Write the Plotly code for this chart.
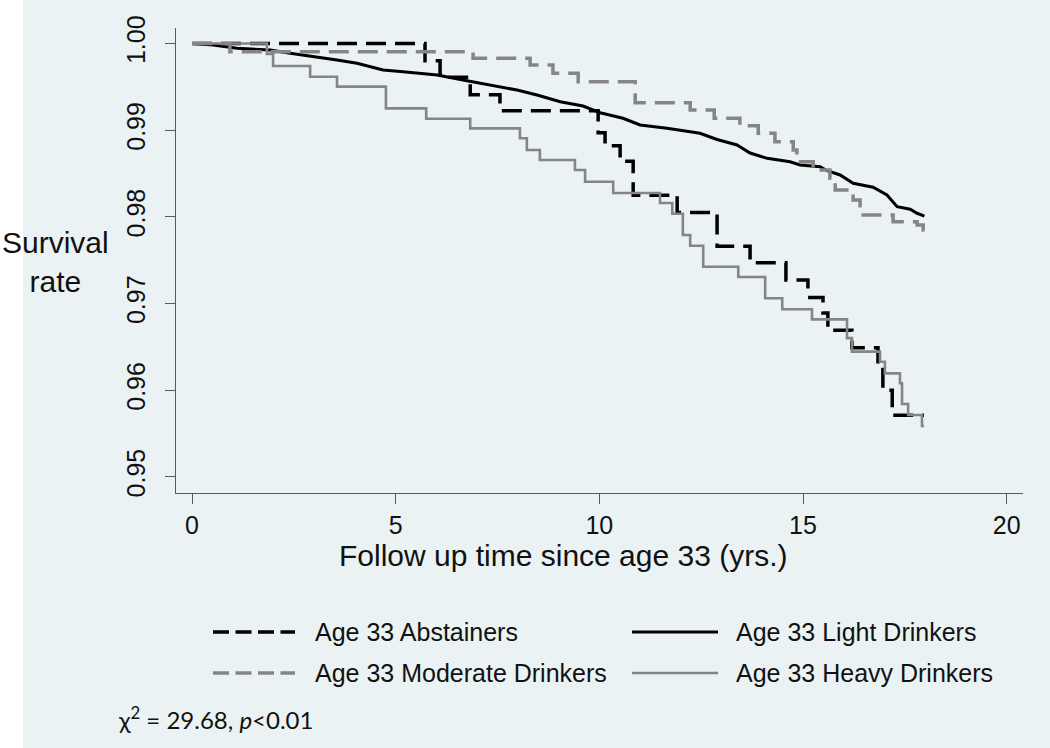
import plotly.graph_objects as go

# ---------------- data ----------------
series_names = ["Age 33 Abstainers", "Age 33 Light Drinkers",
                "Age 33 Moderate Drinkers", "Age 33 Heavy Drinkers"]

t_abstainers = [0, 5.72, 6.09, 6.83, 7.56, 9.97, 10.14, 10.51, 10.83, 11.91, 12.89,
                13.70, 14.58, 15.12, 15.49, 15.61, 16.20, 16.84, 16.96, 17.19, 17.97]
s_abstainers = [1.0, 0.9980, 0.9961, 0.9941, 0.99225, 0.9897, 0.9882, 0.9864, 0.9825,
                0.9805, 0.9766, 0.9747, 0.9727, 0.9707, 0.9689, 0.9669, 0.9649, 0.9629,
                0.9600, 0.9571, 0.9571]

t_light = [0, 0.52, 1.10, 1.92, 2.41, 2.90, 3.56, 4.05, 4.69, 5.18, 6.02, 6.65, 7.56,
           7.98, 8.47, 9.04, 9.60, 10.02, 10.58, 11.00, 11.66, 12.47, 12.89, 13.38,
           13.70, 14.12, 14.68, 14.93, 15.42, 15.59, 15.91, 16.23, 16.72, 17.06, 17.31,
           17.63, 17.80, 17.95, 17.98]
s_light = [1.0, 0.99983, 0.99945, 0.99925, 0.99887, 0.99856, 0.99810, 0.99772, 0.99694,
           0.99675, 0.99636, 0.99579, 0.99501, 0.99463, 0.99406, 0.99328, 0.99279,
           0.99201, 0.99137, 0.99060, 0.99021, 0.98964, 0.98892, 0.98829, 0.98736,
           0.98675, 0.98636, 0.98598, 0.98578, 0.98532, 0.98483, 0.98387, 0.98341,
           0.98252, 0.98117, 0.98087, 0.98041, 0.98009, 0.98009]

t_moderate = [0, 0.93, 6.90, 8.30, 8.86, 9.48, 10.88, 12.23, 12.82, 13.45, 13.90, 14.31,
              14.76, 14.85, 15.25, 15.66, 15.79, 16.23, 16.40, 17.21, 17.80, 17.95, 17.98]
s_moderate = [1.0, 0.99905, 0.99829, 0.99752, 0.99656, 0.99559, 0.99317, 0.99233,
              0.99137, 0.99050, 0.98964, 0.98867, 0.98771, 0.98636, 0.98541, 0.98445,
              0.98310, 0.98194, 0.98021, 0.97944, 0.97906, 0.97848, 0.97848]

t_heavy = [0, 1.84, 1.99, 2.90, 3.56, 4.76, 5.75, 6.83, 8.05, 8.22, 8.54, 9.40, 9.65,
           10.34, 11.49, 11.79, 12.05, 12.23, 12.55, 13.41, 14.07, 14.49, 15.22, 16.08,
           16.20, 16.89, 17.01, 17.38, 17.43, 17.58, 17.92, 17.97]
s_heavy = [1.0, 0.9988, 0.9974, 0.99617, 0.99502, 0.99252, 0.99132, 0.99021, 0.98906,
           0.98771, 0.98656, 0.98540, 0.98405, 0.98275, 0.98160, 0.98035, 0.97790,
           0.97667, 0.97424, 0.97305, 0.97060, 0.96933, 0.96817, 0.96600, 0.96444,
           0.96328, 0.96194, 0.96079, 0.95840, 0.95713, 0.95586, 0.95586]

x_ticks = [0, 5, 10, 15, 20]
y_ticks = [0.95, 0.96, 0.97, 0.98, 0.99, 1.00]
y_tick_labels = ["0.95", "0.96", "0.97", "0.98", "0.99", "1.00"]

# ---------------- layout geometry ----------------
W, H = 1050, 748
L, R, T, B = 176, 1023, 28, 493   # plot area in pixels
BG = "#EAF2F3"


def px(x):
    return (x - L) / (R - L)


def py(y):
    return (B - y) / (B - T)


styles = [
    dict(color="black", width=3.5, dash="20px,9px", shape="hv"),
    dict(color="black", width=3, dash="solid", shape="linear"),
    dict(color="#858585", width=3.5, dash="20px,9px", shape="hv"),
    dict(color="#858585", width=2.6, dash="solid", shape="hv"),
]
data = [(t_abstainers, s_abstainers), (t_light, s_light),
        (t_moderate, s_moderate), (t_heavy, s_heavy)]

fig = go.Figure()
for name, (tx, sy), st in zip(series_names, data, styles):
    fig.add_trace(go.Scatter(
        x=tx, y=sy, mode="lines", name=name, showlegend=False,
        line=dict(color=st["color"], width=st["width"], dash=st["dash"], shape=st["shape"]),
    ))

axis_font = dict(family="Liberation Sans, Arial, sans-serif", size=25, color="#111")

fig.update_layout(
    width=W, height=H,
    margin=dict(l=L, r=W - R, t=T, b=H - B, pad=0),
    paper_bgcolor=BG, plot_bgcolor=BG,
    showlegend=False,
    xaxis=dict(range=[-0.393, 20.40], tickvals=x_ticks, ticktext=[str(v) for v in x_ticks],
               showgrid=False, zeroline=False, showline=True, linecolor="#5a5a5a",
               linewidth=1.3, ticks="outside", ticklen=10, tickcolor="#5a5a5a",
               tickwidth=1.3, tickfont=axis_font),
    yaxis=dict(range=[0.94813, 1.00179], tickvals=y_ticks, ticktext=y_tick_labels,
               showgrid=False, zeroline=False, showline=True, linecolor="#5a5a5a",
               linewidth=1.3, ticks="outside", ticklen=10, tickcolor="#5a5a5a",
               tickwidth=1.3, tickangle=-90, tickfont=axis_font, ticklabelstandoff=10),
)

# white strip on the left edge of the image
fig.add_shape(type="rect", xref="paper", yref="paper",
              x0=px(0), x1=px(23), y0=py(H), y1=py(0),
              fillcolor="white", line=dict(width=0), layer="below")

title_font = dict(family="Liberation Sans, Arial, sans-serif", size=30, color="#111")
fig.add_annotation(text="Follow up time since age 33 (yrs.)", xref="paper", yref="paper",
                   x=px(563), y=py(555), showarrow=False, font=title_font,
                   xanchor="center", yanchor="middle")
fig.add_annotation(text="Survival<br>rate", xref="paper", yref="paper",
                   x=px(55), y=py(262), showarrow=False, font=title_font,
                   xanchor="center", yanchor="middle", align="center")

# legend (drawn manually: long sample lines as in the reference)
leg_font = dict(family="Liberation Sans, Arial, sans-serif", size=25, color="#111")
leg_pos = [(213, 295, 313, 632), (632, 718, 734, 632),
           (213, 295, 313, 673), (632, 718, 734, 673)]
for name, st, (lx0, lx1, tx0, ly) in zip(series_names, styles, leg_pos):
    dash = "16px,6.5px" if st["dash"] != "solid" else "solid"
    fig.add_shape(type="line", xref="paper", yref="paper",
                  x0=px(lx0), x1=px(lx1), y0=py(ly), y1=py(ly),
                  line=dict(color=st["color"], width=st["width"], dash=dash))
    fig.add_annotation(text=name, xref="paper", yref="paper", x=px(tx0), y=py(ly),
                       showarrow=False, font=leg_font, xanchor="left", yanchor="middle")

fig.add_annotation(text="χ<sup>2</sup> = 29.68, <i>p</i><0.01", xref="paper", yref="paper",
                   x=px(116), y=py(718), showarrow=False,
                   font=dict(family="Lato, sans-serif", size=24, color="#111"),
                   xanchor="left", yanchor="middle")

fig.write_html("out.html", config={"displayModeBar": False},
               post_script="document.body.style.margin='0';")
